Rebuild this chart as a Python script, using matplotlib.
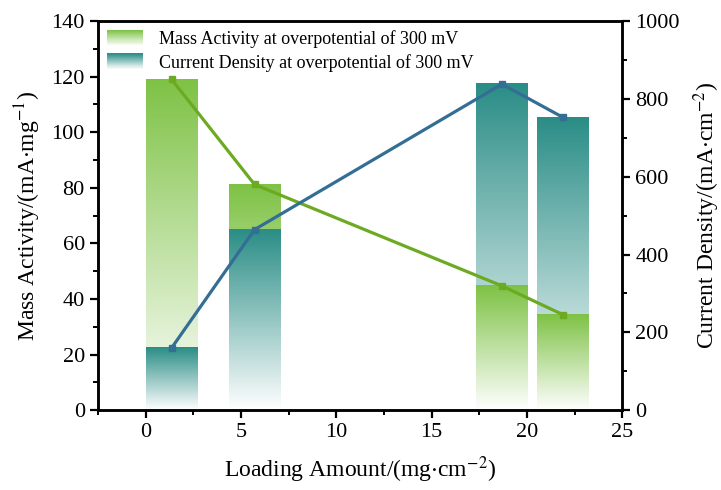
import numpy as np
import matplotlib
matplotlib.use("Agg")
from matplotlib import pyplot as plt
from matplotlib.colors import LinearSegmentedColormap, to_rgb
from matplotlib.patches import Rectangle
from matplotlib.legend_handler import HandlerBase
from matplotlib.ticker import MultipleLocator

plt.rcParams['font.family'] = ['Liberation Serif', 'DejaVu Serif']
plt.rcParams['mathtext.fontset'] = 'stix'

# data
loading = [1.36, 5.71, 18.69, 21.87]
mass_activity = [119.0, 81.2, 44.7, 34.4]
current_density = [160, 464, 838, 753]

GREEN_BAR = '#7ec245'
TEAL_BAR = '#2a8d86'
GREEN_LINE = '#6caa22'
BLUE_LINE = '#336e94'
BAR_W = 2.7
MA_MAX = 140
CD_MAX = 1000

def grad_cmap(color):
    return LinearSegmentedColormap.from_list('g', ['#ffffff', color])

grad = np.linspace(0, 1, 256).reshape(-1, 1)

fig = plt.figure(figsize=(7.21, 4.9), dpi=100)
ax = fig.add_axes([0.136, 0.163, 0.727, 0.794])
ax2 = ax.twinx()

# bars, taller one drawn behind the shorter one
for x, ma, cd in zip(loading, mass_activity, current_density):
    cd_left = cd * MA_MAX / CD_MAX
    bars = [(ma, GREEN_BAR), (cd_left, TEAL_BAR)]
    bars.sort(key=lambda b: -b[0])
    for i, (h, c) in enumerate(bars):
        ax.imshow(grad, cmap=grad_cmap(c), origin='lower', aspect='auto',
                  extent=[x - BAR_W / 2, x + BAR_W / 2, 0, h], zorder=1 + i,
                  interpolation='bilinear')

ax.plot(loading, mass_activity, color=GREEN_LINE, lw=2.3, marker='s', markersize=5, zorder=5)
ax2.plot(loading, current_density, color=BLUE_LINE, lw=2.3, marker='s', markersize=5, zorder=5)

ax.set_xlim(-2.5, 25)
ax.set_ylim(0, MA_MAX)
ax2.set_ylim(0, CD_MAX)

ax.xaxis.set_major_locator(MultipleLocator(5))
ax.xaxis.set_minor_locator(MultipleLocator(2.5))
ax.yaxis.set_major_locator(MultipleLocator(20))
ax.yaxis.set_minor_locator(MultipleLocator(10))
ax2.yaxis.set_major_locator(MultipleLocator(200))
ax2.yaxis.set_minor_locator(MultipleLocator(100))

for a in (ax, ax2):
    for s in a.spines.values():
        s.set_linewidth(1.8)
    a.tick_params(which='major', direction='out', length=6, width=1.6, labelsize=16)
    a.tick_params(which='minor', direction='out', length=3.5, width=1.4)

ax.set_xlabel('Loading Amount/(mg$\\cdot$cm$^{-2}$)', fontsize=17, labelpad=9)
ax.set_ylabel('Mass Activity/(mA$\\cdot$mg$^{-1}$)', fontsize=17, labelpad=6)
ax2.set_ylabel('Current Density/(mA$\\cdot$cm$^{-2}$)', fontsize=17, labelpad=8)


class GradHandler(HandlerBase):
    def __init__(self, color):
        super().__init__()
        self.color = color

    def create_artists(self, legend, orig_handle, xdescent, ydescent, width, height, fontsize, trans):
        n = 30
        c = np.array(to_rgb(self.color))
        arts = []
        for k in range(n):
            f = (k + 0.5) / n
            col = 1 - f * (1 - c)
            r = Rectangle((-xdescent, -ydescent + height * k / n), width, height / n + 0.05,
                          facecolor=col, edgecolor='none', transform=trans)
            arts.append(r)
        return arts


h1 = Rectangle((0, 0), 1, 1)
h2 = Rectangle((0, 0), 1, 1)
ax.legend([h1, h2], ['Mass Activity at overpotential of 300 mV',
                     'Current Density at overpotential of 300 mV'],
          handler_map={h1: GradHandler(GREEN_BAR), h2: GradHandler(TEAL_BAR)},
          loc='upper left', frameon=False, fontsize=13, handlelength=2.0,
          handleheight=0.95, borderaxespad=0.1, labelspacing=0.3, handletextpad=0.85)

fig.savefig('out.png', dpi=100)
